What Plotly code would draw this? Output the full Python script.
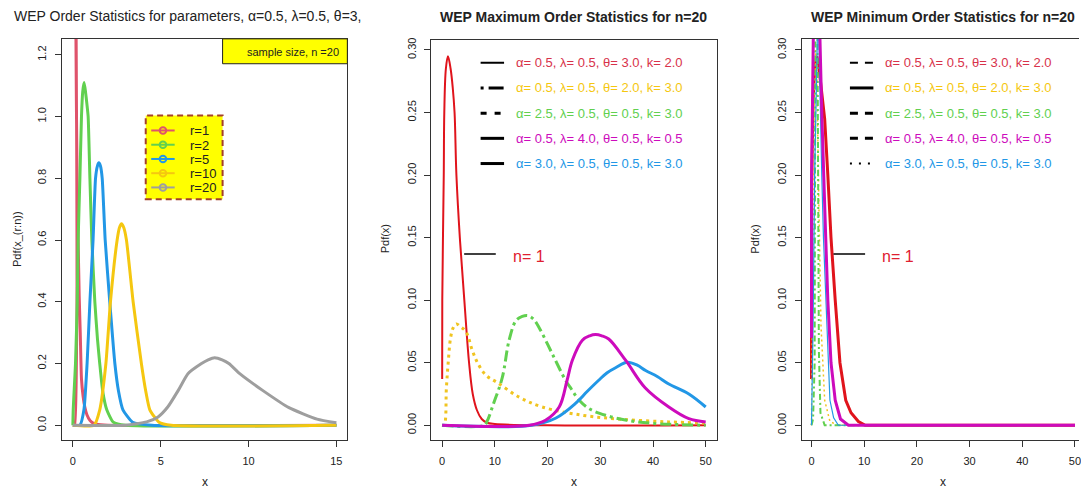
import plotly.graph_objects as go

W, H = 1081, 491
FONT = "Liberation Sans, Arial, sans-serif"

# ---- panel 1 : order statistics, n = 20 ----
r_labels = ["r=1", "r=2", "r=5", "r=10", "r=20"]
r_colors = ["#DF536B", "#61D04F", "#2297E6", "#F5C710", "#9E9E9E"]

x_r1 = [0, 0.1, 0.13, 0.17, 0.2, 0.24, 0.3, 0.36, 0.42, 0.49, 0.58, 0.68, 0.8, 0.97, 1.15, 1.35, 2.0, 15]
y_r1 = [0, 0.0, 1.8, 1.3, 1.05, 0.8, 0.6, 0.42, 0.3, 0.15, 0.095, 0.059, 0.034, 0.016, 0.007, 0.003, 0, 0]

x_r2 = [0, 0.02, 0.08, 0.15, 0.25, 0.3, 0.4, 0.49, 0.56, 0.64, 0.72, 0.8, 0.87, 0.97, 1.08, 1.25,
        1.4, 1.53, 1.7, 1.93, 2.3, 3.0, 15]
y_r2 = [0, 0.05, 0.12, 0.2, 0.4, 0.6, 0.8, 1.0, 1.08, 1.11, 1.08, 1.04, 1.0, 0.8, 0.6, 0.4,
        0.28, 0.2, 0.11, 0.05, 0.01, 0, 0]

x_r5 = [0, 0.4, 0.63, 0.81, 0.97, 1.15, 1.29, 1.4, 1.48, 1.57, 1.67, 1.84, 2.1, 2.39, 2.6, 2.85, 3.4, 4.5, 15]
y_r5 = [0, 0.0, 0.05, 0.2, 0.4, 0.6, 0.8, 0.84, 0.85, 0.84, 0.8, 0.6, 0.4, 0.2, 0.11, 0.05, 0.01, 0, 0]

x_r10 = [0, 1.2, 1.53, 1.88, 2.14, 2.52, 2.65, 2.77, 2.9, 3.05, 3.43, 3.9, 4.15, 4.38, 4.9, 5.6, 15]
y_r10 = [0, 0, 0.05, 0.2, 0.4, 0.6, 0.64, 0.653, 0.64, 0.6, 0.4, 0.2, 0.11, 0.05, 0.01, 0.0, 0]

x_r20 = [0, 3.0, 4.2, 4.85, 5.4, 6.0, 6.55, 7.3, 7.7, 8.07, 8.5, 8.9, 9.5, 10.8, 12.3, 13.9, 15]
y_r20 = [0, 0, 0.011, 0.027, 0.059, 0.113, 0.167, 0.199, 0.212, 0.219, 0.212, 0.199, 0.167, 0.113, 0.057, 0.02, 0.008]

# ---- parameter sets used in panels 2 and 3 ----
param_labels = [
    "α= 0.5, λ= 0.5, θ= 3.0, k= 2.0",
    "α= 0.5, λ= 0.5, θ= 2.0, k= 3.0",
    "α= 2.5, λ= 0.5, θ= 0.5, k= 3.0",
    "α= 0.5, λ= 4.0, θ= 0.5, k= 0.5",
    "α= 3.0, λ= 0.5, θ= 0.5, k= 3.0",
]
param_text_colors = ["#D8324A", "#F5C710", "#61D04F", "#CD0BBC", "#2297E6"]
param_line_colors = ["#E0141C", "#F0C420", "#61D04F", "#CD0BBC", "#2297E6"]

# ---- panel 2 : maximum order statistics ----
max_x_1 = [0, 0.02, 0.3, 0.4, 0.7, 1.1, 1.6, 2.0, 2.35, 2.7, 3.35, 4.2, 5.1, 5.8, 6.6, 7.5, 8.5, 10, 20, 50]
max_y_1 = [0.037, 0.10, 0.20, 0.25, 0.285, 0.295, 0.285, 0.27, 0.25, 0.20, 0.15, 0.10, 0.05, 0.025, 0.012,
           0.005, 0.002, 0.001, 0, 0]
max_x_2 = [0, 0.38, 0.8, 1.14, 1.6, 2.1, 2.7, 3.4, 4.5, 5.7, 6.7, 8.3, 10.5, 14.6, 19, 26.6, 34.1, 43, 50]
max_y_2 = [0, 0.0, 0.03, 0.05, 0.07, 0.078, 0.081, 0.079, 0.075, 0.06, 0.05, 0.04, 0.034, 0.0225, 0.0146,
           0.008, 0.0048, 0.0027, 0.0018]
max_x_3 = [0, 8.0, 8.5, 9.8, 11.4, 12.7, 14.0, 15.2, 16.3, 17.3, 18.4, 20.9, 23.4, 24.5, 26, 28, 31, 35, 40, 45, 50]
max_y_3 = [0, 0, 0.003, 0.018, 0.038, 0.068, 0.0836, 0.087, 0.0876, 0.085, 0.078, 0.057, 0.036, 0.029, 0.02,
           0.013, 0.008, 0.004, 0.0015, 0.0005, 0]
max_x_4 = [0, 16.5, 19.6, 22.2, 23.7, 24.7, 26.6, 28, 29.1, 30.3, 31.6, 34.8, 38.5, 43, 46.8, 50]
max_y_4 = [0, 0, 0.004, 0.0146, 0.036, 0.052, 0.068, 0.0715, 0.0725, 0.0715, 0.069, 0.052, 0.03, 0.0146,
           0.0053, 0.0027]
max_x_5 = [0, 17.0, 21.5, 25.3, 27.5, 29.7, 31.3, 32.9, 35.1, 37, 38.6, 40.8, 43, 46.8, 50]
max_y_5 = [0, 0, 0.0056, 0.0175, 0.027, 0.036, 0.042, 0.046, 0.0504, 0.048, 0.0438, 0.039, 0.033, 0.025, 0.0146]

# ---- panel 3 : minimum order statistics ----
min_x_1 = [0, 0.02, 0.3, 0.6, 1.0, 1.3, 1.7, 2.1, 2.5, 3.1, 3.7, 4.5, 5.4, 6.5, 7.5, 8.9, 10.2, 20, 50]
min_y_1 = [0.037, 0.19, 0.26, 0.285, 0.295, 0.29, 0.275, 0.26, 0.245, 0.20, 0.15, 0.10, 0.05, 0.02, 0.01,
           0.003, 0, 0, 0]
min_x_2 = [0, 0.2, 0.5, 0.8, 1.0, 1.3, 1.8, 2.5, 3.5, 5.0, 50]
min_y_2 = [0, 0.1, 0.25, 0.3, 0.29, 0.2, 0.08, 0.02, 0.003, 0, 0]
min_x_3 = [0, 0.3, 0.6, 0.75, 0.85, 1.0, 1.2, 1.4, 1.7, 2.5, 50]
min_y_3 = [0, 0.005, 0.05, 0.3, 0.6, 0.45, 0.2, 0.06, 0.01, 0, 0]
min_x_4 = [0, 0.02, 0.4, 0.8, 1.2, 1.6, 1.95, 2.27, 2.7, 3.1, 3.7, 4.5, 5.5, 7.0, 20, 50]
min_y_4 = [0.07, 0.2, 0.33, 0.36, 0.35, 0.31, 0.25, 0.2, 0.15, 0.1, 0.05, 0.02, 0.005, 0, 0, 0]
min_x_5 = [0, 0.3, 0.6, 0.9, 1.2, 1.45, 1.65, 1.95, 2.27, 2.7, 3.1, 3.5, 4.2, 5.1, 50]
min_y_5 = [0, 0.08, 0.2, 0.3, 0.33, 0.3, 0.25, 0.2, 0.15, 0.1, 0.05, 0.02, 0.006, 0, 0]


def px(x):
    return x / W


def py(y):
    return 1 - y / H


fig = go.Figure()

# panel 1 curves
for xs, ys, col in zip([x_r1, x_r2, x_r5, x_r10, x_r20],
                       [y_r1, y_r2, y_r5, y_r10, y_r20], r_colors):
    fig.add_trace(go.Scatter(x=xs, y=ys, mode="lines",
                             line=dict(color=col, width=3, shape="spline", smoothing=0.5),
                             xaxis="x", yaxis="y", showlegend=False, hoverinfo="skip"))

# panels 2 and 3 curves (drawing order: 1, 2, 3, 5, 4)
max_curves = [(max_x_1, max_y_1), (max_x_2, max_y_2), (max_x_3, max_y_3), (max_x_4, max_y_4), (max_x_5, max_y_5)]
min_curves = [(min_x_1, min_y_1), (min_x_2, min_y_2), (min_x_3, min_y_3), (min_x_4, min_y_4), (min_x_5, min_y_5)]
max_styles = [(2, "solid"), (3, "3px,4px"), (3, "11px,4px,3px,4px"), (3, "solid"), (3, "solid")]
min_styles = [(3, "solid"), (1.5, "2px,3px"), (2, "6px,3px,2px,3px"), (3, "solid"), (1.2, "solid")]

for curves, styles, xa, ya, shape in [(max_curves, max_styles, "x2", "y2", "spline"),
                                      (min_curves, min_styles, "x3", "y3", "linear")]:
    for i in [0, 1, 2, 4, 3]:
        xs, ys = curves[i]
        w, d = styles[i]
        fig.add_trace(go.Scatter(x=xs, y=ys, mode="lines",
                                 line=dict(color=param_line_colors[i], width=w, dash=d, shape=shape),
                                 xaxis=xa, yaxis=ya, showlegend=False, hoverinfo="skip"))

axis_common = dict(showgrid=False, zeroline=False, showline=True, linecolor="#333", linewidth=1,
                   ticks="outside", ticklen=6, tickcolor="#333",
                   tickfont=dict(family=FONT, size=11, color="#222"))

fig.update_layout(
    width=W, height=H,
    margin=dict(l=0, r=0, t=0, b=0),
    paper_bgcolor="white", plot_bgcolor="white",
    font=dict(family=FONT, color="#222"),
    showlegend=False,
    xaxis=dict(domain=[px(62), px(348)], range=[-0.625, 15.625], anchor="y", mirror=True,
               tickvals=[0, 5, 10, 15], ticklabelstandoff=5, **axis_common),
    yaxis=dict(domain=[py(440), py(37)], range=[-0.0484, 1.2516], anchor="x", mirror=True,
               tickvals=[0, 0.2, 0.4, 0.6, 0.8, 1.0, 1.2], tickformat=".1f", tickangle=-90,
               ticklabelstandoff=4, **axis_common),
    xaxis2=dict(domain=[px(432), px(718)], range=[-2.083, 52.08], anchor="y2", mirror=True,
                tickvals=[0, 10, 20, 30, 40, 50], ticklabelstandoff=5, **axis_common),
    yaxis2=dict(domain=[py(440), py(38)], range=[-0.01194, 0.3081], anchor="x2", mirror=True,
                tickvals=[0, 0.05, 0.1, 0.15, 0.2, 0.25, 0.3], tickformat=".2f", tickangle=-90,
                ticklabelstandoff=4, **axis_common),
    xaxis3=dict(domain=[px(803), 1.0], range=[-1.894, 50.76], anchor="y3", mirror=True,
                tickvals=[0, 10, 20, 30, 40, 50], ticklabelstandoff=5, ticklabeloverflow="allow",
                **axis_common),
    yaxis3=dict(domain=[py(440), py(37)], range=[-0.01194, 0.3089], anchor="x3", mirror=False,
                tickvals=[0, 0.05, 0.1, 0.15, 0.2, 0.25, 0.3], tickformat=".2f", tickangle=-90,
                ticklabelstandoff=4, **axis_common),
)

shapes = []
annotations = []


def text(x, y, s, size=11, color="#222", xanchor="center", angle=0, **kw):
    annotations.append(dict(x=px(x), y=py(y), xref="paper", yref="paper", text=s, showarrow=False,
                            xanchor=xanchor, yanchor="middle", textangle=angle,
                            font=dict(family=FONT, size=size, color=color), **kw))


# titles
text(12, 14, "WEP Order Statistics for parameters, α=0.5, λ=0.5, θ=3,", size=14, xanchor="left")
text(575, 15, "<b>WEP Maximum Order Statistics for n=20</b>", size=14)
text(945, 15, "<b>WEP Minimum Order Statistics for n=20</b>", size=14)

# axis titles
for cx in [205, 575, 945]:
    text(cx, 482, "x", size=12)
text(17, 238, "Pdf(x_(r:n))", size=11, angle=-90)
text(386, 238, "Pdf(x)", size=11, angle=-90)
text(756, 238, "Pdf(x)", size=11, angle=-90)

# sample size box
shapes.append(dict(type="rect", xref="paper", yref="paper", x0=px(223), x1=px(348), y0=py(62), y1=py(37),
                   fillcolor="#FFFF00", line=dict(color="#222", width=1), layer="above"))
text(342, 50, "sample size, n =20", size=11, xanchor="right")

# panel 1 legend
shapes.append(dict(type="rect", xref="paper", yref="paper", x0=px(146), x1=px(223), y0=py(198), y1=py(114),
                   fillcolor="#FFFF00", line=dict(color="#A5402A", width=2, dash="6px,4px"), layer="above"))
for i, (lab, col) in enumerate(zip(r_labels, r_colors)):
    ry = 129 + i * 14.3
    shapes.append(dict(type="line", xref="paper", yref="paper", x0=px(151.5), x1=px(175), y0=py(ry), y1=py(ry),
                       line=dict(color=col, width=2), layer="above"))
    shapes.append(dict(type="circle", xref="paper", yref="paper", x0=px(160), x1=px(166.5),
                       y0=py(ry + 3.25), y1=py(ry - 3.25), line=dict(color=col, width=2), layer="above"))
    text(188, ry + 0.5, lab, size=13, xanchor="left")

# panel 2 and 3 legends
max_legend_dash = [(2, "solid"), (3, "3px,5px,15px,5px"), (3, "6px,8px"), (3, "solid"), (3, "solid")]
min_legend_dash = [(2, "8px,7px"), (3, "solid"), (3, "8px,7px"), (3, "8px,7px"), (2, "2px,7px")]
for x0, dashes in [(481.5, max_legend_dash), (851.5, min_legend_dash)]:
    for i, lab in enumerate(param_labels):
        ry = 61 + i * 25.3
        w, d = dashes[i]
        shapes.append(dict(type="line", xref="paper", yref="paper", x0=px(x0), x1=px(x0 + 23.5),
                           y0=py(ry), y1=py(ry), line=dict(color="black", width=w, dash=d), layer="above"))
        text(x0 + 33.5, ry, lab, size=13, color=param_text_colors[i], xanchor="left")

# "n= 1" markers
for xa, ya in [("x2", "y2"), ("x3", "y3")]:
    shapes.append(dict(type="line", xref=xa, yref=ya, x0=4.17, x1=10.17, y0=0.137, y1=0.137,
                       line=dict(color="black", width=1.5)))
    annotations.append(dict(x=13.0, y=0.135, xref=xa, yref=ya, text="n= 1", showarrow=False,
                            xanchor="left", yanchor="middle",
                            font=dict(family=FONT, size=16, color="#DF2030")))

fig.update_layout(shapes=shapes, annotations=annotations)

# the page body has an 8px default margin; drop it so the figure sits at the window corner
fig.write_html("out.html", config={"displayModeBar": False},
               post_script="document.body.style.margin='0px';")
